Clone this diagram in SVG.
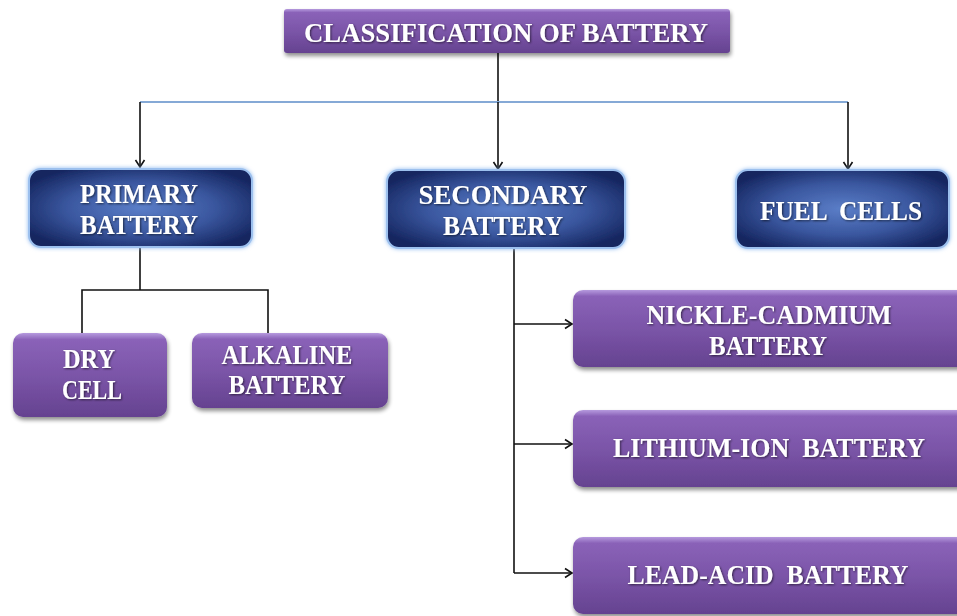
<svg xmlns="http://www.w3.org/2000/svg" width="957" height="616" viewBox="0 0 957 616">
<defs>
  <linearGradient id="purple" x1="0" y1="0" x2="0" y2="1">
    <stop offset="0" stop-color="#b69ade"/>
    <stop offset="0.08" stop-color="#8a62b8"/>
    <stop offset="0.5" stop-color="#7b55a8"/>
    <stop offset="1" stop-color="#654290"/>
  </linearGradient>
  <radialGradient id="blue" cx="0.5" cy="0.5" r="0.6">
    <stop offset="0" stop-color="#5b7ec8"/>
    <stop offset="0.55" stop-color="#3a579f"/>
    <stop offset="1" stop-color="#15255f"/>
  </radialGradient>
  <filter id="shadow" x="-10%" y="-20%" width="120%" height="150%">
    <feGaussianBlur in="SourceAlpha" stdDeviation="2"/>
    <feOffset dx="1" dy="3"/>
    <feComponentTransfer><feFuncA type="linear" slope="0.45"/></feComponentTransfer>
    <feMerge><feMergeNode/><feMergeNode in="SourceGraphic"/></feMerge>
  </filter>
  <filter id="glow" x="-10%" y="-20%" width="120%" height="140%">
    <feFlood flood-color="#8fbaf0"/>
    <feComposite operator="in" in2="SourceAlpha"/>
    <feGaussianBlur stdDeviation="2"/>
    <feMerge><feMergeNode/><feMergeNode in="SourceGraphic"/></feMerge>
  </filter>
  <filter id="txt" x="-5%" y="-20%" width="110%" height="150%">
    <feGaussianBlur in="SourceAlpha" stdDeviation="0.8"/>
    <feOffset dx="0.5" dy="1"/>
    <feComponentTransfer><feFuncA type="linear" slope="0.6"/></feComponentTransfer>
    <feMerge><feMergeNode/><feMergeNode in="SourceGraphic"/></feMerge>
  </filter>
  <marker id="arr" markerWidth="12" markerHeight="12" refX="10" refY="6" orient="auto" markerUnits="userSpaceOnUse">
    <path d="M3,1.5 L10,6 L3,10.5" fill="none" stroke="#111" stroke-width="1.6"/>
  </marker>
</defs>
<style>
  .p { fill: url(#purple); filter: url(#shadow); }
  .b { fill: url(#blue); stroke: #9cc0ee; stroke-width: 2; filter: url(#glow); }
  .t { font-family: "Liberation Serif", "Times New Roman", serif; font-weight: bold; font-size: 28px; fill: #ffffff; text-anchor: middle; filter: url(#txt); white-space: pre; }
  .c { fill: none; stroke: #111; stroke-width: 1.6; }
</style>

<g id="connectors">
  <path class="c" d="M498,53 V102"/>
  <path d="M140,102 H848" fill="none" stroke="#85a9d6" stroke-width="2"/>
  <path class="c" d="M140,102 V167" marker-end="url(#arr)"/>
  <path class="c" d="M498,102 V169" marker-end="url(#arr)"/>
  <path class="c" d="M848,102 V169" marker-end="url(#arr)"/>
  <path class="c" d="M140,248 V290 M82,333 V290 H268 V333"/>
  <path class="c" d="M514,249 V573"/>
  <path class="c" d="M514,324 H572" marker-end="url(#arr)"/>
  <path class="c" d="M514,444 H572" marker-end="url(#arr)"/>
  <path class="c" d="M514,573 H572" marker-end="url(#arr)"/>
</g>

<g id="title">
  <rect class="p" x="284" y="9" width="446" height="44" rx="3"/>
  <text class="t" x="506" y="42" font-size="30" textLength="404" lengthAdjust="spacingAndGlyphs">CLASSIFICATION OF BATTERY</text>
</g>

<g id="primary">
  <rect class="b" x="29" y="169" width="223" height="78" rx="12"/>
  <text class="t" x="139" y="203" textLength="118" lengthAdjust="spacingAndGlyphs">PRIMARY</text>
  <text class="t" x="139" y="234" textLength="118" lengthAdjust="spacingAndGlyphs">BATTERY</text>
</g>

<g id="secondary">
  <rect class="b" x="387" y="170" width="238" height="78" rx="12"/>
  <text class="t" x="503" y="204" textLength="169" lengthAdjust="spacingAndGlyphs">SECONDARY</text>
  <text class="t" x="503" y="235" textLength="120" lengthAdjust="spacingAndGlyphs">BATTERY</text>
</g>

<g id="fuel">
  <rect class="b" x="736" y="170" width="213" height="78" rx="12"/>
  <text class="t" x="841" y="220" xml:space="preserve" textLength="162" lengthAdjust="spacingAndGlyphs">FUEL  CELLS</text>
</g>

<g id="dry">
  <rect class="p" x="13" y="333" width="154" height="84" rx="10"/>
  <text class="t" x="89" y="368" textLength="52" lengthAdjust="spacingAndGlyphs">DRY</text>
  <text class="t" x="92" y="399" textLength="60" lengthAdjust="spacingAndGlyphs">CELL</text>
</g>

<g id="alkaline">
  <rect class="p" x="192" y="333" width="196" height="75" rx="10"/>
  <text class="t" x="287" y="364" textLength="131" lengthAdjust="spacingAndGlyphs">ALKALINE</text>
  <text class="t" x="287" y="394" textLength="117" lengthAdjust="spacingAndGlyphs">BATTERY</text>
</g>

<g id="nickle">
  <rect class="p" x="573" y="290" width="395" height="77" rx="10"/>
  <text class="t" x="769" y="324" textLength="245" lengthAdjust="spacingAndGlyphs">NICKLE-CADMIUM</text>
  <text class="t" x="768" y="355" textLength="118" lengthAdjust="spacingAndGlyphs">BATTERY</text>
</g>

<g id="lithium">
  <rect class="p" x="573" y="410" width="395" height="77" rx="10"/>
  <text class="t" x="769" y="457" xml:space="preserve" textLength="312" lengthAdjust="spacingAndGlyphs">LITHIUM-ION  BATTERY</text>
</g>

<g id="lead">
  <rect class="p" x="573" y="537" width="395" height="77" rx="10"/>
  <text class="t" x="768" y="584" xml:space="preserve" textLength="281" lengthAdjust="spacingAndGlyphs">LEAD-ACID  BATTERY</text>
</g>
</svg>
